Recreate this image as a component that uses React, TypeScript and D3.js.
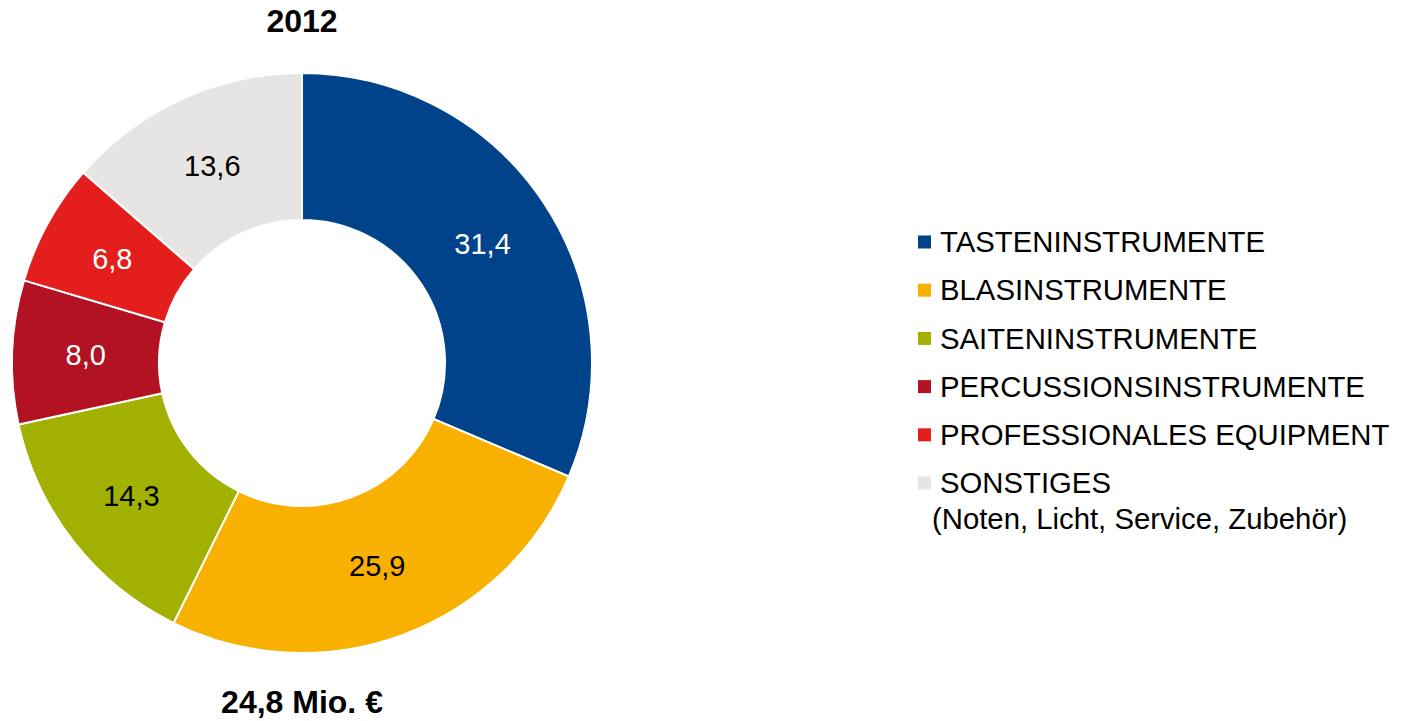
import React from "react";
import { pie, arc, PieArcDatum } from "d3";

const categories = [
  "TASTENINSTRUMENTE",
  "BLASINSTRUMENTE",
  "SAITENINSTRUMENTE",
  "PERCUSSIONSINSTRUMENTE",
  "PROFESSIONALES EQUIPMENT",
  "SONSTIGES",
];
const values = [31.4, 25.9, 14.3, 8.0, 6.8, 13.6];
const colors = ["#00438a", "#f8b100", "#a2b000", "#b31223", "#e31e1c", "#e6e5e4"];
const labelColors = ["#ffffff", "#000000", "#000000", "#ffffff", "#ffffff", "#000000"];
const title = "2012";
const total = "24,8 Mio. €";
const legendSub = "(Noten, Licht, Service, Zubehör)";

const W = 1406;
const H = 721;
const cx = 302;
const cy = 363;
const outerR = 290;
const innerR = 143;

export default function App() {
  const pieGen = pie<number>().sort(null).value((d) => d);
  const arcs = pieGen(values);
  const arcGen = arc<PieArcDatum<number>>().innerRadius(innerR).outerRadius(outerR);
  const fmt = (v: number) => v.toFixed(1).replace(".", ",");

  return (
    <svg
      width={W}
      height={H}
      style={{ position: "absolute", left: 0, top: 0, fontFamily: "Liberation Sans, Arial, sans-serif" }}
    >
      <rect width={W} height={H} fill="#fff" />
      <text x={cx} y={32} textAnchor="middle" fontSize={32} fontWeight="bold">
        {title}
      </text>
      <g transform={`translate(${cx},${cy})`}>
        {arcs.map((a, i) => (
          <path key={i} d={arcGen(a) || ""} fill={colors[i]} stroke="#fff" strokeWidth={2} />
        ))}
        {arcs.map((a, i) => {
          const [x, y] = arcGen.centroid(a);
          return (
            <text
              key={i}
              x={x}
              y={y}
              dy="0.35em"
              textAnchor="middle"
              fontSize={29}
              fill={labelColors[i]}
            >
              {fmt(values[i])}
            </text>
          );
        })}
      </g>
      <text x={cx} y={713} textAnchor="middle" fontSize={32} fontWeight="bold">
        {total}
      </text>
      <g transform="translate(918,0)">
        {categories.map((c, i) => {
          const y = 242 + i * 48.2;
          return (
            <g key={c}>
              <rect x={0} y={y - 6.5} width={13} height={13} fill={colors[i]} />
              <text x={22} y={y} dy="0.35em" fontSize={29.3} fill="#000">
                {c}
              </text>
            </g>
          );
        })}
        <text x={14} y={519} dy="0.35em" fontSize={29.3} fill="#000">
          {legendSub}
        </text>
      </g>
    </svg>
  );
}
